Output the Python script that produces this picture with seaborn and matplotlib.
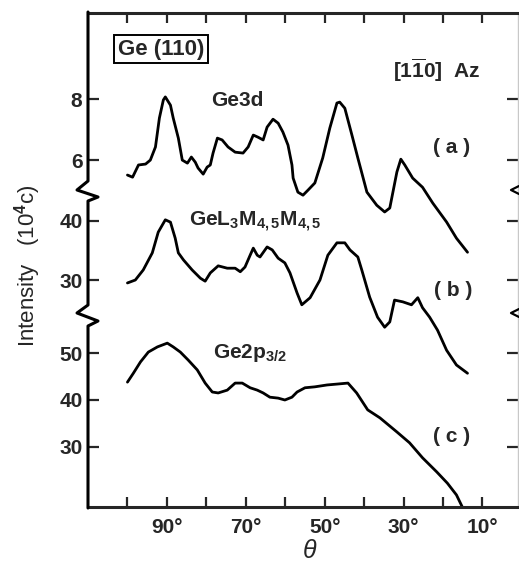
import matplotlib
matplotlib.use("Agg")
import matplotlib.pyplot as plt
import seaborn as sns
import pandas as pd
from matplotlib.lines import Line2D

# angle (deg) and intensity
theta_a = [100.0, 98.7, 97.2, 95.4, 94.2, 92.9, 91.9, 90.9, 90.4, 89.1, 88.4, 87.1,
           86.1, 84.8, 83.8, 82.8, 82.1, 80.8, 79.8, 79.0, 78.3, 77.2, 76.0, 74.5,
           72.7, 70.7, 69.4, 68.1, 66.9, 65.6, 64.6, 63.1, 61.8, 60.6, 59.3, 58.3,
           58.0, 56.8, 55.5, 54.2, 52.5, 50.5, 48.7, 46.9, 46.2, 44.9, 43.1, 41.6,
           39.3, 36.8, 34.8, 33.5, 31.7, 30.7, 29.7, 27.7, 25.2, 22.6, 19.1, 16.6, 13.8]
ge3d = [5.51, 5.44, 5.84, 5.87, 6.00, 6.43, 7.38, 7.97, 8.07, 7.80, 7.38, 6.72,
        6.00, 5.90, 6.10, 5.93, 5.74, 5.54, 5.77, 5.84, 6.23, 6.72, 6.66, 6.43,
        6.26, 6.23, 6.43, 6.82, 6.75, 6.66, 7.08, 7.34, 7.21, 6.92, 6.49, 5.84,
        5.41, 4.95, 4.85, 5.02, 5.25, 6.07, 7.05, 7.87, 7.90, 7.70, 6.82, 6.07,
        4.95, 4.52, 4.30, 4.43, 5.61, 6.03, 5.84, 5.41, 5.11, 4.59, 3.97, 3.44, 2.98]

theta_b = [100.0, 98.0, 96.0, 93.7, 92.2, 90.4, 89.1, 87.9, 87.1, 85.8, 83.6, 81.5,
           80.3, 79.0, 77.0, 74.7, 72.7, 71.4, 70.2, 68.9, 68.1, 67.1, 66.4, 64.6,
           63.3, 61.8, 60.1, 58.8, 57.0, 55.8, 53.7, 51.2, 49.2, 46.9, 44.9, 43.6,
           41.6, 40.6, 38.6, 36.6, 34.8, 33.5, 32.3, 30.2, 28.0, 26.4, 25.2, 23.4,
           21.4, 19.1, 16.6, 13.8]
gelmm = [29.5, 30.0, 31.7, 34.6, 38.1, 40.2, 39.8, 37.1, 34.6, 33.4, 31.7, 30.3,
         29.8, 31.2, 32.4, 32.0, 32.0, 31.4, 32.2, 34.2, 35.4, 34.2, 33.9, 35.6,
         35.1, 33.7, 32.9, 31.2, 27.8, 25.8, 27.0, 30.0, 34.2, 36.3, 36.3, 35.1,
         33.9, 31.7, 27.1, 23.7, 22.0, 22.9, 26.6, 26.3, 25.8, 27.0, 25.3, 23.7,
         21.5, 18.1, 15.6, 14.2]

theta_c = [100.0, 98.5, 96.7, 94.7, 92.4, 89.9, 88.4, 86.6, 84.6, 82.3, 80.3, 78.5,
           77.0, 74.7, 72.7, 70.9, 68.9, 67.1, 65.6, 63.9, 61.8, 60.1, 58.3, 57.0,
           55.0, 52.5, 49.4, 46.7, 44.1, 41.9, 39.1, 36.0, 31.7, 28.5, 25.2, 21.6,
           18.9, 16.6, 15.1]
ge2p = [43.8, 45.7, 48.1, 50.2, 51.3, 52.1, 51.3, 50.2, 48.5, 46.4, 43.6, 41.7,
        41.5, 42.1, 43.6, 43.6, 42.6, 42.1, 41.5, 40.6, 40.4, 40.0, 40.6, 41.7,
        42.6, 42.8, 43.2, 43.4, 43.6, 41.5, 37.9, 36.2, 33.2, 30.9, 27.7, 24.7,
        22.3, 19.8, 17.2]

x_ticks = [100, 90, 80, 70, 60, 50, 40, 30, 20, 10]
x_labels = ["", "90°", "", "70°", "", "50°", "", "30°", "", "10°"]
y_ticks_a = [6, 8]
y_ticks_b = [30, 40]
y_ticks_c = [30, 40, 50]

W, H = 519, 570
sns.set_style("ticks")
plt.rcParams["font.family"] = ["Liberation Sans", "DejaVu Sans"]
plt.rcParams["font.weight"] = "bold"
plt.rcParams["mathtext.fontset"] = "custom"
plt.rcParams["mathtext.rm"] = "Liberation Sans:bold"
plt.rcParams["mathtext.it"] = "Liberation Sans:italic:bold"
plt.rcParams["mathtext.bf"] = "Liberation Sans:bold"
plt.rcParams["mathtext.default"] = "rm"

fig = plt.figure(figsize=(W / 100, H / 100), dpi=100)
fig.patch.set_facecolor("white")


def fx(x):
    return x / W


def fy(y):
    return 1 - y / H


def add_panel(y0, y1):
    return fig.add_axes([fx(88), fy(y1), (518 - 88) / W, (y1 - y0) / H])


ax_a = add_panel(13, 190)
ax_b = add_panel(190, 314)
ax_c = add_panel(314, 507)

panels = [
    (ax_a, theta_a, ge3d, (5.02, 10.82), y_ticks_a),
    (ax_b, theta_b, gelmm, (24.24, 45.25), y_ticks_b),
    (ax_c, theta_c, ge2p, (17.23, 58.3), y_ticks_c),
]

for ax, th, vals, ylim, yt in panels:
    df = pd.DataFrame({"theta": th, "I": vals})
    sns.lineplot(data=df, x="theta", y="I", ax=ax, color="black", lw=2.0,
                 estimator=None, sort=False, clip_on=False)
    ax.set_xlim(110, 1)
    ax.set_ylim(*ylim)
    ax.set_xlabel("")
    ax.set_ylabel("")
    ax.set_facecolor("none")
    ax.set_yticks(yt)
    ax.set_xticks(x_ticks)
    ax.tick_params(axis="y", which="both", direction="in", left=True, right=True,
                   length=8, width=1.6, labelsize=15, pad=4)
    ax.spines["left"].set_visible(False)
    ax.spines["right"].set_color("#c8c8c8")
    ax.spines["right"].set_linewidth(1)
    ax.spines["top"].set_visible(False)
    ax.spines["bottom"].set_visible(False)
    ax.tick_params(axis="x", bottom=False, top=False, labelbottom=False)

ax_a.spines["top"].set_visible(True)
ax_a.spines["top"].set_linewidth(2.2)
ax_a.tick_params(axis="x", top=True, direction="in", length=7, width=1.6)

ax_c.spines["bottom"].set_visible(True)
ax_c.spines["bottom"].set_linewidth(2.2)
ax_c.tick_params(axis="x", bottom=True, labelbottom=True, direction="in",
                 length=7, width=1.6, labelsize=15, pad=8)
ax_c.set_xticklabels(x_labels)

# left spine with axis breaks
sx = [88, 88, 77, 98, 88, 88, 77, 98, 88, 88]
sy = [12, 181, 190, 197, 201, 305, 313, 321, 326, 508]
fig.add_artist(Line2D([fx(v) for v in sx], [fy(v) for v in sy],
                      transform=fig.transFigure, color="black", lw=2.2))
for yb in (190, 313):
    fig.add_artist(Line2D([fx(519), fx(511), fx(519)], [fy(yb - 4), fy(yb), fy(yb + 4)],
                          transform=fig.transFigure, color="black", lw=1.6))

txt = dict(ha="center", va="center", fontsize=15, fontweight="bold")
fig.text(fx(161), fy(49), "Ge (110)", fontsize=16, fontweight="bold",
         ha="center", va="center",
         bbox=dict(boxstyle="square,pad=0.15", fc="white", ec="black", lw=1.4))
fig.text(fx(437), fy(70), r"$[1\overline{1}0]$  Az", ha="center", va="center",
         fontsize=15, fontweight="bold")
fig.text(fx(237), fy(100), "Ge3d", **txt)
fig.text(fx(452), fy(148), "( a )", **txt)
fig.text(fx(255), fy(222), r"GeL$_3$M$_{4,5}$M$_{4,5}$", **txt)
fig.text(fx(453), fy(291), "( b )", **txt)
fig.text(fx(250), fy(353), r"Ge2p$_{3/2}$", **txt)
fig.text(fx(452), fy(436), "( c )", **txt)
fig.text(fx(310), fy(551), "θ", ha="center", va="center", fontsize=18,
         style="italic", fontweight="normal")
fig.text(fx(28), fy(266), r"Intensity   (10$^4$c)", rotation=90,
         ha="center", va="center", fontsize=16, fontweight="normal")

fig.savefig("out.png", dpi=100, facecolor="white")
